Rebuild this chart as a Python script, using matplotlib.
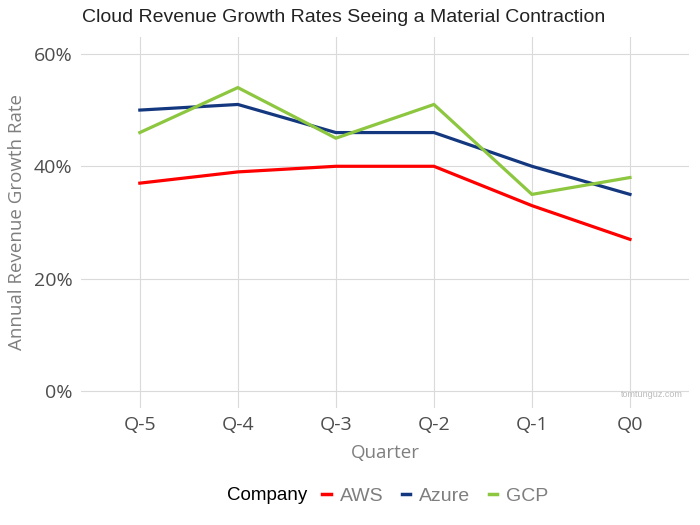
import matplotlib
matplotlib.use("Agg")
import matplotlib.pyplot as plt
from matplotlib.ticker import PercentFormatter
from matplotlib.lines import Line2D

# --- Data ----------------------------------------------------------------
quarters = ["Q-5", "Q-4", "Q-3", "Q-2", "Q-1", "Q0"]
aws = [37, 39, 40, 40, 33, 27]
azure = [50, 51, 46, 46, 40, 35]
gcp = [46, 54, 45, 51, 35, 38]
y_ticks = [0, 20, 40, 60]

# --- Palette -------------------------------------------------------------
AWS_CLR = "#FF0000"
AZURE_CLR = "#14387F"
GCP_CLR = "#8DC63F"
GRID_CLR = "#DADADA"
TICK_CLR = "#4D4D4D"
LABEL_CLR = "#7F7F7F"
ARIAL = ["Liberation Sans", "DejaVu Sans"]

plt.rcParams["font.family"] = ["Open Sans", "DejaVu Sans"]

fig = plt.figure(figsize=(7, 5.25), dpi=100)
ax = fig.add_axes([0.1157, 0.2229, 0.8683, 0.7066])

x = list(range(len(quarters)))
ax.plot(x, aws, color=AWS_CLR, lw=2.3, label="AWS", solid_joinstyle="miter")
ax.plot(x, azure, color=AZURE_CLR, lw=2.3, label="Azure", solid_joinstyle="miter")
ax.plot(x, gcp, color=GCP_CLR, lw=2.3, label="GCP", solid_joinstyle="miter")

ax.set_xlim(-0.6, len(quarters) - 0.4)
ax.set_ylim(-3, 63)
ax.set_xticks(x)
ax.set_xticklabels(quarters)
ax.set_yticks(y_ticks)
ax.yaxis.set_major_formatter(PercentFormatter(decimals=0))

ax.grid(True, color=GRID_CLR, lw=0.8)
ax.set_axisbelow(True)
for s in ax.spines.values():
    s.set_visible(False)
ax.tick_params(length=0, labelsize=14, colors=TICK_CLR, pad=6)

ax.set_xlabel("Quarter", fontsize=13.5, color=LABEL_CLR, labelpad=7)
ax.set_ylabel("Annual Revenue Growth Rate", fontsize=13.5, color=LABEL_CLR, labelpad=6)

fig.text(82 / 700, 1 - 17 / 525, "Cloud Revenue Growth Rates Seeing a Material Contraction",
         fontsize=14, family=ARIAL, color="#222222", ha="left", va="center")

ax.text(0.99, 0.035, "tomtunguz.com", transform=ax.transAxes, fontsize=6.5,
        color="#BBBBBB", ha="right", va="center", family=ARIAL)

# legend with title on the left
fig.text(227 / 700, 1 - 496 / 525, "Company", fontsize=13.5, color="black",
         ha="left", va="center", family=ARIAL)
handles = [Line2D([0], [0], color=c, lw=2.5) for c in (AWS_CLR, AZURE_CLR, GCP_CLR)]
leg = fig.legend(handles, ["AWS", "Azure", "GCP"], loc="center left",
                 bbox_to_anchor=(322 / 700, 1 - 496 / 525), ncol=3, frameon=False,
                 handlelength=0.45, handletextpad=0.45, columnspacing=0.95,
                 prop={"family": ARIAL, "size": 14}, borderpad=0, borderaxespad=0)
for t in leg.get_texts():
    t.set_color(LABEL_CLR)

fig.savefig("out.png", dpi=100)
